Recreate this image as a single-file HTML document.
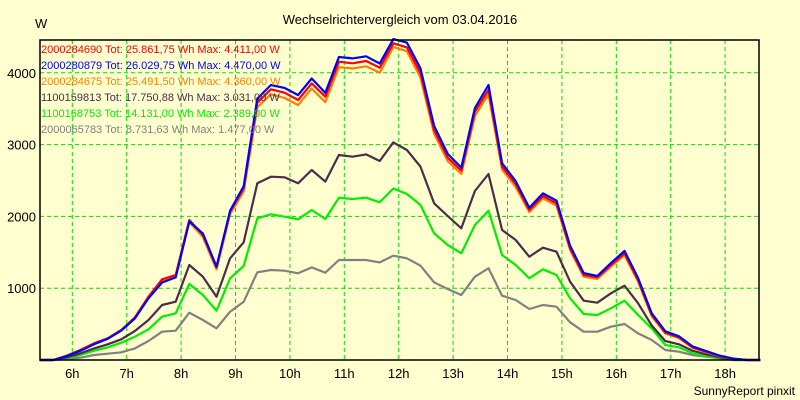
<!DOCTYPE html>
<html><head><meta charset="utf-8"><style>
body{margin:0;background:#ffffd0;}
svg{display:block;font-family:"Liberation Sans",sans-serif;}
</style></head><body>
<svg id="chart" width="800" height="400">
<rect width="800" height="400" fill="#ffffd0"/>
<text x="400" y="24" text-anchor="middle" font-size="13">Wechselrichtervergleich vom 03.04.2016</text>
<text x="35" y="28" font-size="13">W</text>
<text x="795" y="395" text-anchor="end" font-size="12">SunnyReport pinxit</text>
<g id="grid"></g><g id="series"></g><g id="axes"></g><g id="legend"></g>
</svg>
<script>
const t0 = 5.4, dt = 0.25;
const hourTicks = ["6h","7h","8h","9h","10h","11h","12h","13h","14h","15h","16h","17h","18h"];
const hourTickValues = [6,7,8,9,10,11,12,13,14,15,16,17,18];
const yTicks = [1000,2000,3000,4000];
const seriesNames = ["2000284690","2000280879","2000284675","1100159813","1100168753","2000065783"];
const seriesTotals = ["25.861,75","26.029,75","25.491,50","17.750,88","14.131,00","8.731,63"];
const seriesMax = ["4.411,00","4.470,00","4.360,00","3.031,00","2.389,00","1.477,00"];
const colors = ["#ff0000","#0000ff","#ff8000","#4b2c4b","#00ee00","#808080"];
const red = [0,0,60,139,232,302,418,594,882,1124,1184,1950,1741,1291,2066,2391,3584,3770,3723,3621,3853,3667,4155,4132,4164,4071,4411,4354,3993,3203,2818,2637,3458,3760,2692,2451,2089,2284,2182,1556,1184,1152,1323,1486,1114,627,380,316,177,116,56,18,0,0];
const blue = [0,0,55,130,220,295,410,580,860,1080,1150,1930,1760,1300,2080,2420,3640,3830,3790,3690,3920,3720,4220,4200,4230,4130,4470,4420,4060,3260,2870,2680,3510,3830,2740,2490,2120,2320,2220,1590,1210,1170,1350,1520,1140,650,400,330,190,125,60,20,0,0];
const orange = [0,0,62,140,230,298,412,585,870,1110,1170,1920,1710,1260,2030,2350,3520,3700,3650,3550,3780,3590,4080,4060,4090,4000,4360,4300,3930,3150,2770,2590,3400,3700,2650,2410,2060,2250,2150,1530,1160,1130,1300,1460,1090,610,370,305,170,110,52,15,0,0];
const dark = [0,0,37,93,162,218,288,404,557,766,812,1323,1160,882,1416,1639,2461,2553,2544,2461,2646,2484,2855,2832,2864,2772,3031,2925,2692,2182,2005,1834,2354,2591,1811,1671,1439,1564,1508,1091,826,798,929,1035,789,480,265,218,130,79,37,5,0,0];
const green = [0,0,23,70,130,177,241,325,427,603,650,1058,905,687,1138,1309,1973,2029,1996,1959,2089,1964,2260,2242,2260,2196,2389,2312,2159,1764,1602,1486,1880,2079,1462,1323,1138,1263,1184,859,641,627,720,826,627,441,209,177,93,56,28,0,0,0];
const gray = [0,0,14,32,70,88,107,162,265,394,408,659,557,441,673,812,1221,1253,1244,1207,1290,1216,1393,1393,1393,1360,1453,1416,1313,1082,989,905,1160,1277,896,836,710,766,743,525,394,394,464,501,371,278,139,116,70,46,23,0,0,0];
const allSeries = [red,blue,orange,dark,green,gray];
const drawOrder = [5,4,3,2,0,1];

const L=40,R=759,T=40,B=360;
const xH = h => 72.3 + (h-6)*54.4;
const yV = v => 360 - v*0.0718;
const NS="http://www.w3.org/2000/svg";
function mk(tag, parent){const e=document.createElementNS(NS,tag);document.getElementById(parent).appendChild(e);return e;}

hourTickValues.forEach((h,i)=>{
  const l=mk("line","grid");
  
  
  l.setAttribute("x1",xH(h));l.setAttribute("x2",xH(h));l.setAttribute("y1",T);l.setAttribute("y2",B);
  l.setAttribute("stroke","#00e000");l.setAttribute("stroke-dasharray","4,3");
  const tx=mk("text","axes");
  
  
  tx.setAttribute("x",xH(h));tx.setAttribute("y",378);tx.setAttribute("text-anchor","middle");tx.setAttribute("font-size","13");
  tx.textContent=hourTicks[i];
});
yTicks.forEach(v=>{
  const l=mk("line","grid");
  
  
  l.setAttribute("x1",L);l.setAttribute("x2",R);l.setAttribute("y1",yV(v));l.setAttribute("y2",yV(v));
  l.setAttribute("stroke","#00e000");l.setAttribute("stroke-dasharray","4,3");
  const tx=mk("text","axes");
  
  
  tx.setAttribute("x",36);tx.setAttribute("y",yV(v)+5);tx.setAttribute("text-anchor","end");tx.setAttribute("font-size","13");
  tx.textContent=v;
});
drawOrder.forEach(si=>{
  const p=mk("polyline","series");
  
  
  p.setAttribute("points",allSeries[si].map((v,k)=>xH(t0+k*dt).toFixed(1)+","+yV(v).toFixed(1)).join(" "));
  p.setAttribute("fill","none");p.setAttribute("stroke",colors[si]);p.setAttribute("stroke-width","2.2");p.setAttribute("stroke-linejoin","round");
});
const fr=mk("rect","axes");


fr.setAttribute("x",L);fr.setAttribute("y",T);fr.setAttribute("width",R-L);fr.setAttribute("height",B-T);
fr.setAttribute("fill","none");fr.setAttribute("stroke","#000");fr.setAttribute("stroke-width","1.5");
seriesNames.forEach((n,i)=>{
  const tx=mk("text","legend");
  
  
  tx.setAttribute("x",41);tx.setAttribute("y",53+i*16);tx.setAttribute("font-size","11");tx.setAttribute("fill",colors[i]);
  tx.textContent=n+" Tot: "+seriesTotals[i]+" Wh Max: "+seriesMax[i]+" W";
});
</script>
</body></html>
